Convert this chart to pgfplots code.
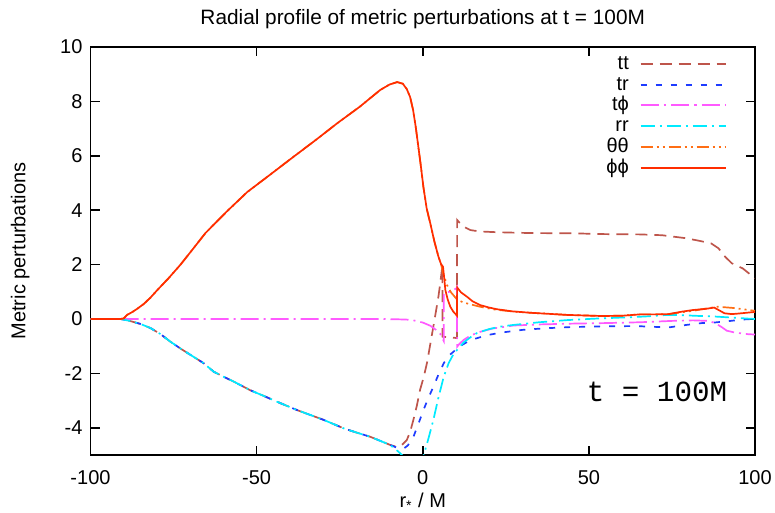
\documentclass[border=0pt]{standalone}
\usepackage{fontspec}
\setmainfont{Liberation Sans}
\setmonofont{Liberation Mono}
\usepackage{pgfplots}
\pgfplotsset{compat=1.18}
\definecolor{ttcol}{RGB}{190,85,75}
\definecolor{trcol}{RGB}{30,60,255}
\definecolor{magcol}{RGB}{255,90,255}
\definecolor{rrcol}{RGB}{0,235,255}
\definecolor{qqcol}{RGB}{255,110,20}
\definecolor{ppcol}{RGB}{255,45,0}
\begin{document}
\begin{tikzpicture}
\begin{axis}[
  scale only axis, width=332.25pt, height=204pt,
  xmin=-100, xmax=100, ymin=-5, ymax=10,
  xtick={-100,-50,...,100}, ytick={-4,-2,...,10},
  tick align=inside, major tick length=4.5pt,
  axis line style={line width=0.75pt},
  every tick/.style={black, line width=0.75pt},
  /pgf/number format/assume math mode=true,
  font=\fontsize{10}{12}\selectfont,
  tick label style={font=\fontsize{10}{12}\selectfont},
  xticklabel style={yshift=-4pt},
  yticklabel style={xshift=-0.5pt},
  title={Radial profile of metric perturbations at t = 100M},
  title style={yshift=-0.5pt, font=\fontsize{10.4}{12}\selectfont},
  xlabel={r\textsubscript{*} / M},
  xlabel style={yshift=2.5pt},
  ylabel={Metric perturbations},
  ylabel shift=8.5pt,
  legend plot pos=right,
  legend cell align=right,
  legend style={at={(rel axis cs:1,1)}, anchor=north east, xshift=-14pt, yshift=-4pt,
    draw=none, fill=none, inner sep=0pt, row sep=1.9pt,
    nodes={inner sep=0pt, text height=7pt, text depth=1.5pt, font=\fontsize{10}{12}\selectfont},
    /tikz/every odd column/.append style={column sep=5.5pt}},
  legend image code/.code={\draw[#1] plot coordinates {(0pt,0pt) (42.5pt,0pt)};},
  every axis plot/.append style={line width=0.85pt},
]
% tt
\addplot[color=ttcol, dash pattern=on 6pt off 3.5pt] coordinates {
(-100,0) (-91,0) (-88.5,-0.06) (-85,-0.18) (-82,-0.33) (-79,-0.55) (-76,-0.83) (-73,-1.08)
(-69.9,-1.32) (-66,-1.62) (-62.9,-1.94) (-59.5,-2.15) (-56.9,-2.3) (-51.9,-2.62) (-48,-2.82)
(-43.9,-3.04) (-37.8,-3.35) (-33.8,-3.53) (-29.8,-3.71) (-23.8,-4.02) (-19.8,-4.18) (-15.8,-4.33)
(-12.8,-4.48) (-9.8,-4.63) (-8.5,-4.68) (-7.3,-4.68) (-6,-4.6) (-4.8,-4.45) (-3.8,-4.15)
(-2.8,-3.7) (-1.8,-3.2) (-0.8,-2.6) (0.3,-2.13) (1.3,-1.6) (2.3,-0.9) (3.3,-0.2) (4.0,0.3)
(4.75,0.85) (5.3,1.35) (5.9,1.95) (5.95,-0.65) (10.3,-0.7) (10.35,3.64) (11,3.55) (11.8,3.46)
(13,3.35) (14.3,3.27) (17,3.22) (22.3,3.19) (32.3,3.16) (45,3.15) (55,3.12) (65.4,3.11)
(72,3.08) (79.2,2.97) (83,2.88) (86.8,2.78) (89,2.6) (91,2.29) (93,2.05) (96.3,1.86) (100,1.5)
};
\addlegendentry{tt}
% tr
\addplot[color=trcol, dash pattern=on 3pt off 4.5pt] coordinates {
(-100,0) (-91,0) (-88.5,-0.06) (-85,-0.18) (-82,-0.33) (-79,-0.55) (-76,-0.83) (-73,-1.08)
(-69.9,-1.32) (-66,-1.62) (-62.9,-1.94) (-59.5,-2.15) (-56.9,-2.3) (-51.9,-2.62) (-48,-2.82)
(-43.9,-3.04) (-37.8,-3.35) (-33.8,-3.53) (-29.8,-3.71) (-23.8,-4.02) (-19.8,-4.18) (-15.8,-4.33)
(-12.8,-4.48) (-9.8,-4.63) (-8,-4.72) (-5.9,-4.78) (-4.5,-4.65) (-2.8,-4.33) (-1.3,-3.85)
(0.2,-3.35) (1.7,-2.9) (3.2,-2.49) (4.7,-2.05) (6.3,-1.63) (7.8,-1.35) (9.3,-1.2) (10.3,-1.07)
(12.3,-0.92) (14.5,-0.77) (17.3,-0.67) (20,-0.58) (23.6,-0.5) (30,-0.4) (37,-0.34) (44,-0.3)
(54,-0.27) (64,-0.26) (70,-0.29) (74,-0.31) (79.2,-0.22) (84,-0.15) (87.7,-0.13) (92,-0.08)
(96,-0.02) (100,0)
};
\addlegendentry{tr}
% t phi
\addplot[color=magcol, dash pattern=on 9pt off 2.5pt on 1pt off 2.5pt, forget plot] coordinates {
(-100,0) (-20,0) (-12.8,0) (-8,-0.01) (-5,-0.02) (-2.8,-0.05) (0,-0.13) (2.3,-0.25) (4,-0.4)
(5.3,-0.55) (6.3,-0.8) (6.35,0.94) (8,1.0) (10.1,1.12) (10.3,1.16) (10.35,-1.02) (11,-0.92)
(12.3,-0.77) (14.5,-0.6) (17.3,-0.47) (21,-0.35) (27.3,-0.24) (35,-0.2) (45,-0.17) (55,-0.15)
(65.4,-0.12) (75,-0.07) (81.3,-0.05) (86,-0.07) (88,-0.15) (90,-0.3) (91.5,-0.43) (94,-0.5)
(98,-0.56) (100,-0.57)
};
\addlegendimage{draw=magcol, line width=0.9pt, yshift=0.25pt, dash pattern=on 9pt off 2.5pt on 1.2pt off 2.5pt}
\addlegendentry{tϕ}
% rr
\addplot[color=rrcol, dash pattern=on 7pt off 2.5pt on 1pt off 2.5pt] coordinates {
(-100,0) (-91,0) (-88.5,-0.06) (-85,-0.18) (-82,-0.33) (-79,-0.55) (-76,-0.83) (-73,-1.08)
(-69.9,-1.32) (-66,-1.62) (-62.9,-1.94) (-59.5,-2.15) (-56.9,-2.3) (-51.9,-2.62) (-48,-2.82)
(-43.9,-3.04) (-37.8,-3.35) (-33.8,-3.53) (-29.8,-3.71) (-23.8,-4.02) (-19.8,-4.18) (-15.8,-4.33)
(-12.8,-4.48) (-9.8,-4.63) (-7.3,-4.88) (-5,-5.15) (-2.5,-5.4) (-1,-5.35) (0.3,-5.0) (1.7,-4.4)
(3.2,-3.71) (4.7,-2.9) (6.3,-2.13) (7.8,-1.62) (9.3,-1.28) (10.3,-1.14) (12.3,-0.86) (14.5,-0.66)
(16.4,-0.51) (20,-0.37) (23.3,-0.28) (27.2,-0.22) (35,-0.12) (43.5,-0.04) (53,0.02) (63.3,0.07)
(68,0.1) (73.5,0.15) (78,0.14) (83.5,0.11) (86.6,0.1) (92,0.06) (97.2,0.02) (100,0)
};
\addlegendentry{rr}
% theta theta
\addplot[color=qqcol, dash pattern=on 6pt off 2pt on 1pt off 2pt on 1pt off 2pt] coordinates {
(-100,0) (-91,0) (-90,0.02) (-89,0.15) (-87.5,0.25) (-86,0.37) (-84,0.55) (-82,0.78) (-80,1.05)
(-76.5,1.5) (-72.9,2.0) (-69,2.6) (-65.4,3.16) (-59,3.95) (-52.8,4.67) (-46,5.3) (-39.8,5.88)
(-32,6.6) (-25.7,7.2) (-19,7.8) (-12.8,8.42) (-10,8.62) (-7.7,8.71) (-6,8.65) (-4.8,8.45)
(-3.8,8.16) (-2.9,7.68) (-2.1,7.05) (-1.4,6.4) (-0.6,5.65) (0.2,4.85) (1.2,4.05) (2.3,3.5)
(3.5,2.85) (4.7,2.3) (5.5,2.02) (6.1,1.7) (7.3,1.25) (8.5,0.98) (10.3,0.72) (12,0.62) (14,0.55)
(17.3,0.45) (22,0.34) (27,0.28) (32.3,0.23) (43.5,0.15) (53.8,0.11) (60,0.12) (65.4,0.17)
(70,0.17) (74,0.18) (78,0.25) (81.3,0.3) (85,0.38) (88.7,0.45) (91,0.43) (94,0.4) (97,0.35) (100,0.3)
};
\addlegendentry{θθ}
% phi phi
\addplot[color=ppcol, solid] coordinates {
(-100,0) (-91,0) (-90,0.02) (-89,0.15) (-87.5,0.25) (-86,0.37) (-84,0.55) (-82,0.78) (-80,1.05)
(-76.5,1.5) (-72.9,2.0) (-69,2.6) (-65.4,3.16) (-59,3.95) (-52.8,4.67) (-46,5.3) (-39.8,5.88)
(-32,6.6) (-25.7,7.2) (-19,7.8) (-12.8,8.42) (-10,8.62) (-7.7,8.71) (-6,8.65) (-4.8,8.45)
(-3.8,8.16) (-2.9,7.68) (-2.1,7.05) (-1.4,6.4) (-0.6,5.65) (0.2,4.85) (1.2,4.05) (2.3,3.5)
(3.5,2.85) (4.7,2.3) (5.5,2.02) (6.1,1.92) (6.5,1.45) (6.8,1.07) (7.5,0.72) (8.3,0.45) (9.2,0.27)
(10.1,0.15) (10.3,0.12) (10.35,1.16) (11.5,0.98) (13.3,0.82) (15,0.65) (17.3,0.51) (20,0.42)
(22.3,0.36) (27,0.28) (32.3,0.23) (43.5,0.15) (53.8,0.11) (60,0.12) (65.4,0.17) (70,0.17)
(74,0.18) (78,0.27) (81.3,0.33) (85,0.37) (87.7,0.42) (89.5,0.3) (90.8,0.21) (93,0.18) (95,0.2) (100,0.26)
};
\addlegendentry{ϕϕ}
\node[font=\ttfamily\fontsize{14.6}{16}\selectfont] at (axis cs:70.5,-2.68) {t = 100M};
\coordinate (bl) at (rel axis cs:0,0);
\coordinate (tr) at (rel axis cs:1,1);
\end{axis}
\pgfresetboundingbox
\path[use as bounding box] ([shift={(-45.25pt,-29pt)}]bl) rectangle ([shift={(10pt,23.5pt)}]tr);
\end{tikzpicture}
\end{document}
